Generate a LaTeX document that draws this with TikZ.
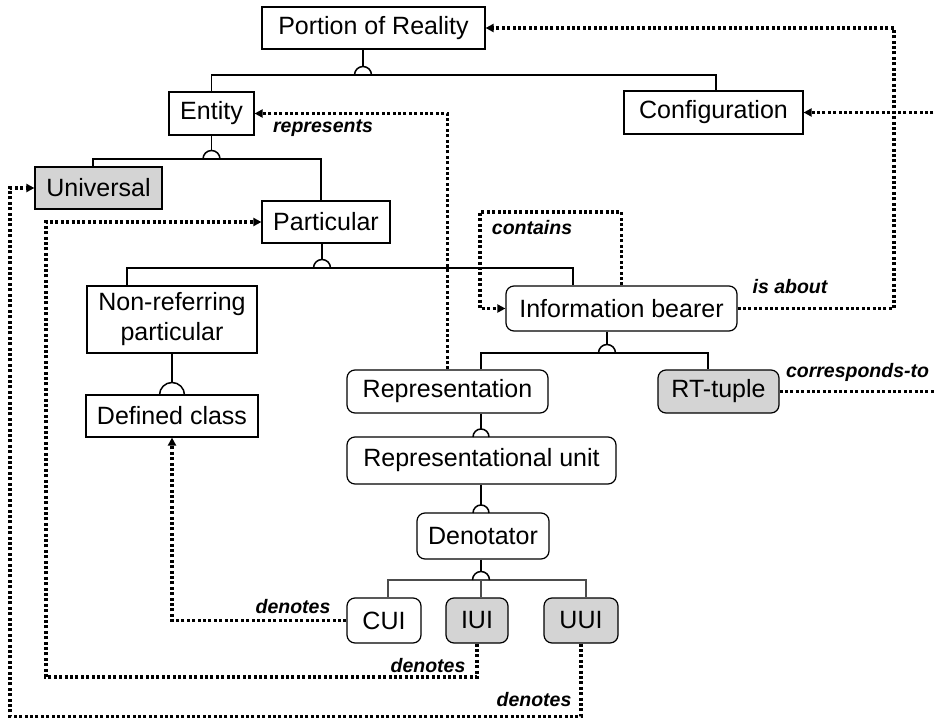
\documentclass[tikz,border=0pt]{standalone}
\usepackage{fontspec}
\setmainfont{Liberation Sans}
\usetikzlibrary{arrows.meta}
\definecolor{boxgray}{RGB}{212,212,212}
\begin{document}
\begin{tikzpicture}[x=1pt,y=1pt,
  box/.style={draw=black, line width=1.2pt, inner sep=0pt, align=center, font=\fontsize{25}{30}\selectfont},
  rbox/.style={box, rounded corners=8pt},
  shaded/.style={fill=boxgray},
  tree/.style={line width=1.5pt},
  thintree/.style={line width=1.1pt, draw=black!70},
  rel/.style={line width=3.1pt, dash pattern=on 3pt off 2.4pt},
  relarr/.style={rel, -{Triangle[length=8pt,width=8pt]}},
  lbl/.style={font=\fontsize{19.5}{23}\selectfont\bfseries\itshape, inner sep=0pt}
]
\useasboundingbox (0,0) rectangle (936,-719);

% nodes
\node[box, minimum width=223pt, minimum height=42pt] (por) at (373.5,-28) {Portion of Reality};
\node[box, minimum width=85pt, minimum height=43pt] (entity) at (211.5,-113.5) {Entity};
\node[box, minimum width=179pt, minimum height=43pt] (config) at (713.5,-112.5) {Configuration};
\node[box, shaded, minimum width=127pt, minimum height=42pt] (universal) at (98.5,-188) {Universal};
\node[box, minimum width=128pt, minimum height=42pt] (particular) at (326,-222) {Particular};
\node[box, minimum width=170pt, minimum height=67pt] (nonref) at (172,-319.5) {Non-referring\\particular};
\node[box, minimum width=172pt, minimum height=42pt] (defined) at (172,-416) {Defined class};
\node[rbox, minimum width=231pt, minimum height=45pt] (ib) at (621.5,-308.5) {Information bearer};
\node[rbox, minimum width=201pt, minimum height=43pt] (repr) at (447.5,-391.5) {Representation};
\node[rbox, shaded, minimum width=121pt, minimum height=43pt] (rt) at (718.5,-391.5) {RT-tuple};
\node[rbox, minimum width=269pt, minimum height=47pt] (ru) at (481.5,-460.5) {Representational unit};
\node[rbox, minimum width=132pt, minimum height=46pt] (denot) at (483,-536) {Denotator};
\node[rbox, minimum width=74pt, minimum height=45pt] (cui) at (384,-620.5) {CUI};
\node[rbox, shaded, minimum width=62pt, minimum height=45pt] (iui) at (477,-620.5) {IUI};
\node[rbox, shaded, minimum width=74pt, minimum height=45pt] (uui) at (581,-620.5) {UUI};

% tree: Portion of Reality
\draw[tree] (entity.north) |- (716,-75) -- ([xshift=2.5pt]config.north);
\draw[tree] (354.5,-75) arc[start angle=180,end angle=0,radius=8.5];
\draw[tree] ([xshift=-10.5pt]por.south) -- (363,-66.5);
% Entity
\draw[tree] ([xshift=-5.5pt]universal.north) |- (321,-159) -- ([xshift=-5pt]particular.north);
\draw[tree] (203,-159) arc[start angle=180,end angle=0,radius=8.5];
\draw[tree] (entity.south) -- (211.5,-150.5);
% Particular
\draw[tree] ([xshift=-45pt]nonref.north) |- (573,-268) -- ([xshift=-48.5pt]ib.north);
\draw[tree] (313.5,-268) arc[start angle=180,end angle=0,radius=8.5];
\draw[tree] ([xshift=-4pt]particular.south) -- (322,-259.5);
% Non-referring -> Defined class
\draw[tree] (159.5,-395) arc[start angle=180,end angle=0,radius=12.5];
\draw[tree] (nonref.south) -- (172,-382.5);
% Information bearer
\draw[tree] ([xshift=33.5pt]repr.north) |- (708,-353) -- ([xshift=-10.5pt]rt.north);
\draw[tree] (598.5,-353) arc[start angle=180,end angle=0,radius=8.5];
\draw[tree] ([xshift=-14.5pt]ib.south) -- (607,-344.5);
% Representation -> Representational unit
\draw[tree] (473,-437) arc[start angle=180,end angle=0,radius=8];
\draw[tree] ([xshift=33.5pt]repr.south) -- (481,-429);
% Representational unit -> Denotator
\draw[tree] (473,-513) arc[start angle=180,end angle=0,radius=8];
\draw[tree] ([xshift=-0.5pt]ru.south) -- (481,-505);
% Denotator
\draw[thintree] ([xshift=4pt]cui.north) |- (586,-580) -- ([xshift=5pt]uui.north);
\draw[thintree] ([xshift=4pt]iui.north) -- (481,-580);
\draw[tree] (472.5,-580) arc[start angle=180,end angle=0,radius=8.5];
\draw[tree] ([xshift=-2pt]denot.south) -- (481,-571.5);

% relations
\draw[relarr] (ib.east) -- (894,-308.5) |- (por.east);
\node[lbl] (lisabout) at (790,-287) {is about};
\draw[relarr] (rt.east) -- (960,-391.5) -- (960,-112.5) -- (config.east);
\node[lbl] (lcorr) at (857.5,-372) {corresponds-to};
\draw[relarr] (repr.north) |- (entity.east);
\node[lbl] (lrep) at (323,-128) {represents};
\draw[relarr] (ib.north) |- (480,-212) |- (ib.west);
\node[lbl] (lcont) at (532,-228) {contains};
\draw[relarr] (cui.west) -| (defined.south);
\node[lbl] (ld1) at (293,-607) {denotes};
\draw[relarr] (iui.south) |- (46,-677) |- (particular.west);
\node[lbl] (ld2) at (428,-666) {denotes};
\draw[relarr] (uui.south) |- (10,-716.5) |- (universal.west);
\node[lbl] (ld3) at (534,-700) {denotes};
\end{tikzpicture}
\end{document}
